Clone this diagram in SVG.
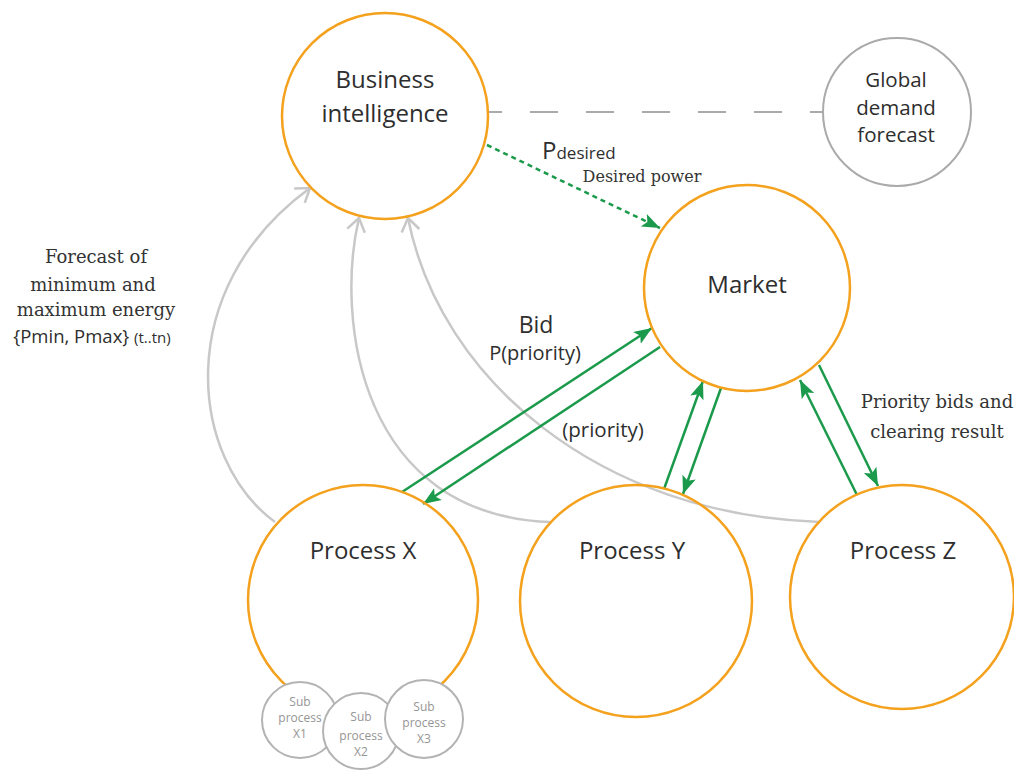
<svg xmlns="http://www.w3.org/2000/svg" width="1014" height="771" viewBox="0 0 1014 771">
<style>
.node{fill:none;stroke:#f4a11d;stroke-width:2.5}
.gnode{fill:#fff;stroke:#aaaaaa;stroke-width:2}
.sub{fill:#fff;stroke:#b3b3b3;stroke-width:2}
.t{font-family:"Open Sans","Noto Sans",sans-serif;fill:#2e2e2e;text-anchor:middle;font-weight:500}
.st{font-family:"Open Sans","Noto Sans",sans-serif;fill:#959595;text-anchor:middle;font-size:12px}
.s{font-family:"DejaVu Serif","Liberation Serif",serif;fill:#333;text-anchor:middle}
.g{fill:none;stroke:#1b9a4b;stroke-width:2.5}
.gray{fill:none;stroke:#c8c8c8;stroke-width:2.5}
</style>
<defs>
<marker id="ga" markerUnits="userSpaceOnUse" markerWidth="20" markerHeight="16" refX="18" refY="8" orient="auto" viewBox="0 0 20 16"><path d="M0,1 L18,8 L0,15 L4,8 z" fill="#1b9a4b"/></marker>
<marker id="gc" markerUnits="userSpaceOnUse" markerWidth="20" markerHeight="22" refX="15" refY="11" orient="auto" viewBox="0 0 20 22"><path d="M2,2 L15,11 L2,20" fill="none" stroke="#c8c8c8" stroke-width="2.5"/></marker>
</defs>
<g id="connectors">
<line x1="488" y1="112" x2="823" y2="112" stroke="#aaaaaa" stroke-width="2" stroke-dasharray="14 28 28 28 28 28 28 28 28 28 28 28 28 28"/>
<path class="gray" d="M275,522 C190,460 170,290 310,188" marker-end="url(#gc)"/>
<path class="gray" d="M550,522 C360,515 335,320 359,218" marker-end="url(#gc)"/>
<path class="gray" d="M820,522 C600,515 440,380 408,218" marker-end="url(#gc)"/>
<line x1="487" y1="145" x2="660" y2="228" stroke="#1b9a4b" stroke-width="2.5" stroke-dasharray="5 4" marker-end="url(#ga)"/>
<line class="g" x1="402" y1="492" x2="652" y2="328" marker-end="url(#ga)"/>
<line class="g" x1="660" y1="347" x2="423" y2="504" marker-end="url(#ga)"/>
<line class="g" x1="664" y1="489" x2="703" y2="381" marker-end="url(#ga)"/>
<line class="g" x1="721" y1="388" x2="683" y2="494" marker-end="url(#ga)"/>
<line class="g" x1="857" y1="495" x2="800" y2="380" marker-end="url(#ga)"/>
<line class="g" x1="819" y1="365" x2="878" y2="486" marker-end="url(#ga)"/>
<text class="t" x="542" y="159" font-size="24" style="text-anchor:start">P<tspan font-size="17">desired</tspan></text>
<text class="s" x="642" y="182" font-size="16">Desired power</text>
<text class="t" x="536" y="333" font-size="23">Bid</text>
<text class="t" x="535" y="360" font-size="20">P(priority)</text>
<text class="t" x="603" y="437" font-size="20.5">(priority)</text>
<text class="s" x="96" y="263" font-size="18">Forecast of</text>
<text class="s" x="93" y="291" font-size="18">minimum and</text>
<text class="s" x="96" y="316" font-size="18">maximum energy</text>
<text class="t" x="92" y="343" font-size="18.5">{Pmin, Pmax} <tspan font-size="15">(t..tn)</tspan></text>
<text class="s" x="937" y="408" font-size="18">Priority bids and</text>
<text class="s" x="937" y="438" font-size="18">clearing result</text>
</g>
<g id="business-intelligence">
<circle class="node" cx="385" cy="116" r="103"/>
<text class="t" x="385" y="88" font-size="24">Business</text>
<text class="t" x="385" y="122" font-size="24">intelligence</text>
</g>
<g id="global-demand-forecast">
<circle class="gnode" cx="897" cy="112" r="74"/>
<text class="t" x="896" y="87" font-size="20.5">Global</text>
<text class="t" x="896" y="115" font-size="20.5">demand</text>
<text class="t" x="896" y="142" font-size="20.5">forecast</text>
</g>
<g id="market">
<circle class="node" cx="747" cy="288" r="103"/>
<text class="t" x="747" y="293" font-size="24">Market</text>
</g>
<g id="process-x">
<circle class="node" cx="363" cy="600" r="115"/>
<text class="t" x="363" y="559" font-size="24">Process X</text>
</g>
<g id="process-y">
<circle class="node" cx="636" cy="601" r="116"/>
<text class="t" x="632" y="559" font-size="24">Process Y</text>
</g>
<g id="process-z">
<circle class="node" cx="902" cy="597" r="112"/>
<text class="t" x="903" y="559" font-size="24">Process Z</text>
</g>
<g id="sub-process-x1">
<circle class="sub" cx="300" cy="720" r="38"/>
<text class="st" x="300" y="706">Sub</text>
<text class="st" x="300" y="722">process</text>
<text class="st" x="300" y="738">X1</text>
</g>
<g id="sub-process-x2">
<circle class="sub" cx="361" cy="731" r="38"/>
<text class="st" x="361" y="721">Sub</text>
<text class="st" x="361" y="740">process</text>
<text class="st" x="361" y="756">X2</text>
</g>
<g id="sub-process-x3">
<circle class="sub" cx="424" cy="719" r="39"/>
<text class="st" x="424" y="711">Sub</text>
<text class="st" x="424" y="727">process</text>
<text class="st" x="424" y="743">X3</text>
</g>
</svg>
